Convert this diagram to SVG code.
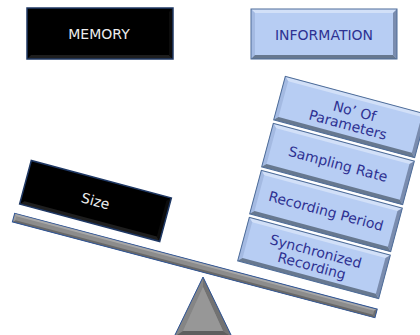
<svg xmlns="http://www.w3.org/2000/svg" xmlns:xlink="http://www.w3.org/1999/xlink" width="420" height="335" viewBox="0 0 420 335">
<style>
  text { font-family: "DejaVu Sans", "Liberation Sans", sans-serif; font-size: 14px; text-anchor: middle; }
  .wt { fill: #ececec; }
  .bt { fill: #2e3192; }
</style>
<defs>
  <g id="blueBox">
    <rect x="-73" y="-22.5" width="146" height="45" fill="#b7cdf3"/>
    <polygon points="-73,-22.5 73,-22.5 69,-18.5 -69,-18.5" fill="#d2e0f8"/>
    <polygon points="-73,-22.5 -69,-18.5 -69,18.5 -73,22.5" fill="#a4bae2"/>
    <polygon points="73,-22.5 73,22.5 69,18.5 69,-18.5" fill="#7a8cae"/>
    <polygon points="-73,22.5 73,22.5 69,18.5 -69,18.5" fill="#67788f"/>
    <rect x="-73" y="-22.5" width="146" height="45" fill="none" stroke="#4f6d99" stroke-width="1"/>
  </g>
  <g id="blackBox">
    <rect x="-72.5" y="-22.5" width="145" height="45" fill="#000"/>
    <polygon points="-72.5,22.5 72.5,22.5 68.5,18.5 -68.5,18.5" fill="#1e1e1e"/>
    <polygon points="72.5,-22.5 72.5,22.5 68.5,18.5 68.5,-18.5" fill="#0c0c0c"/>
    <rect x="-72.5" y="-22.5" width="145" height="45" fill="none" stroke="#1f3864" stroke-width="1.5"/>
  </g>
</defs>

<g id="memory">
  <rect x="27" y="8" width="146" height="51" fill="#000"/>
  <polygon points="27,59 173,59 169,55 31,55" fill="#1e1e1e"/>
  <polygon points="173,8 173,59 169,55 169,12" fill="#0c0c0c"/>
  <rect x="27" y="8" width="146" height="51" fill="none" stroke="#1f3864" stroke-width="1.5"/>
  <text class="wt" x="99" y="39">MEMORY</text>
</g>

<g id="information">
  <rect x="251" y="9" width="146" height="50" fill="#b7cdf3"/>
  <polygon points="251,9 397,9 393,13 255,13" fill="#d2e0f8"/>
  <polygon points="251,9 255,13 255,55 251,59" fill="#a4bae2"/>
  <polygon points="397,9 397,59 393,55 393,13" fill="#7a8cae"/>
  <polygon points="251,59 397,59 393,55 255,55" fill="#67788f"/>
  <rect x="251" y="9" width="146" height="50" fill="none" stroke="#4f6d99" stroke-width="1"/>
  <text class="bt" x="324" y="39.5">INFORMATION</text>
</g>

<g id="fulcrum">
  <polygon points="203,277 174,337 232,337" fill="#8a8a8a"/>
  <polygon points="203,277 174,337 183,331 203,287" fill="#858585"/>
  <polygon points="203,277 232,337 223,331 203,287" fill="#727272"/>
  <polygon points="174,337 232,337 223,331 183,331" fill="#5e5e5e"/>
  <polygon points="203,287 183,331 223,331" fill="#979797"/>
  <polygon points="203,277 174,337 232,337" fill="none" stroke="#2f5597" stroke-width="1"/>
</g>

<g id="beam" transform="translate(194.8,265.5) rotate(14.8)">
  <rect x="-187.5" y="-4.5" width="375" height="9" fill="#8c8c8c"/>
  <polygon points="-187.5,-4.5 187.5,-4.5 185,-2 -185,-2" fill="#a8a8a8"/>
  <polygon points="-187.5,4.5 187.5,4.5 185,2 -185,2" fill="#686868"/>
  <polygon points="-187.5,-4.5 -185,-2 -185,2 -187.5,4.5" fill="#9a9a9a"/>
  <polygon points="187.5,-4.5 187.5,4.5 185,2 185,-2" fill="#6e6e6e"/>
  <rect x="-187.5" y="-4.5" width="375" height="9" fill="none" stroke="#2f5597" stroke-width="1"/>
</g>

<g id="size" transform="translate(95.5,201) rotate(15)">
  <use xlink:href="#blackBox" href="#blackBox"/>
  <text class="wt" x="0" y="5">Size</text>
</g>

<g id="parameters" transform="translate(350,117) rotate(15)">
  <use xlink:href="#blueBox" href="#blueBox"/>
  <text class="bt" x="3" y="-2">No’ Of</text>
  <text class="bt" x="0" y="13">Parameters</text>
</g>

<g id="sampling" transform="translate(338,164) rotate(15)">
  <use xlink:href="#blueBox" href="#blueBox"/>
  <text class="bt" x="0" y="5">Sampling Rate</text>
</g>

<g id="period" transform="translate(326,211) rotate(15)">
  <use xlink:href="#blueBox" href="#blueBox"/>
  <text class="bt" x="0" y="5">Recording Period</text>
</g>

<g id="synchronized" transform="translate(314,258) rotate(15)">
  <use xlink:href="#blueBox" href="#blueBox"/>
  <text class="bt" x="0" y="-2">Synchronized</text>
  <text class="bt" x="0" y="13">Recording</text>
</g>

<g id="connectors"></g>
</svg>
